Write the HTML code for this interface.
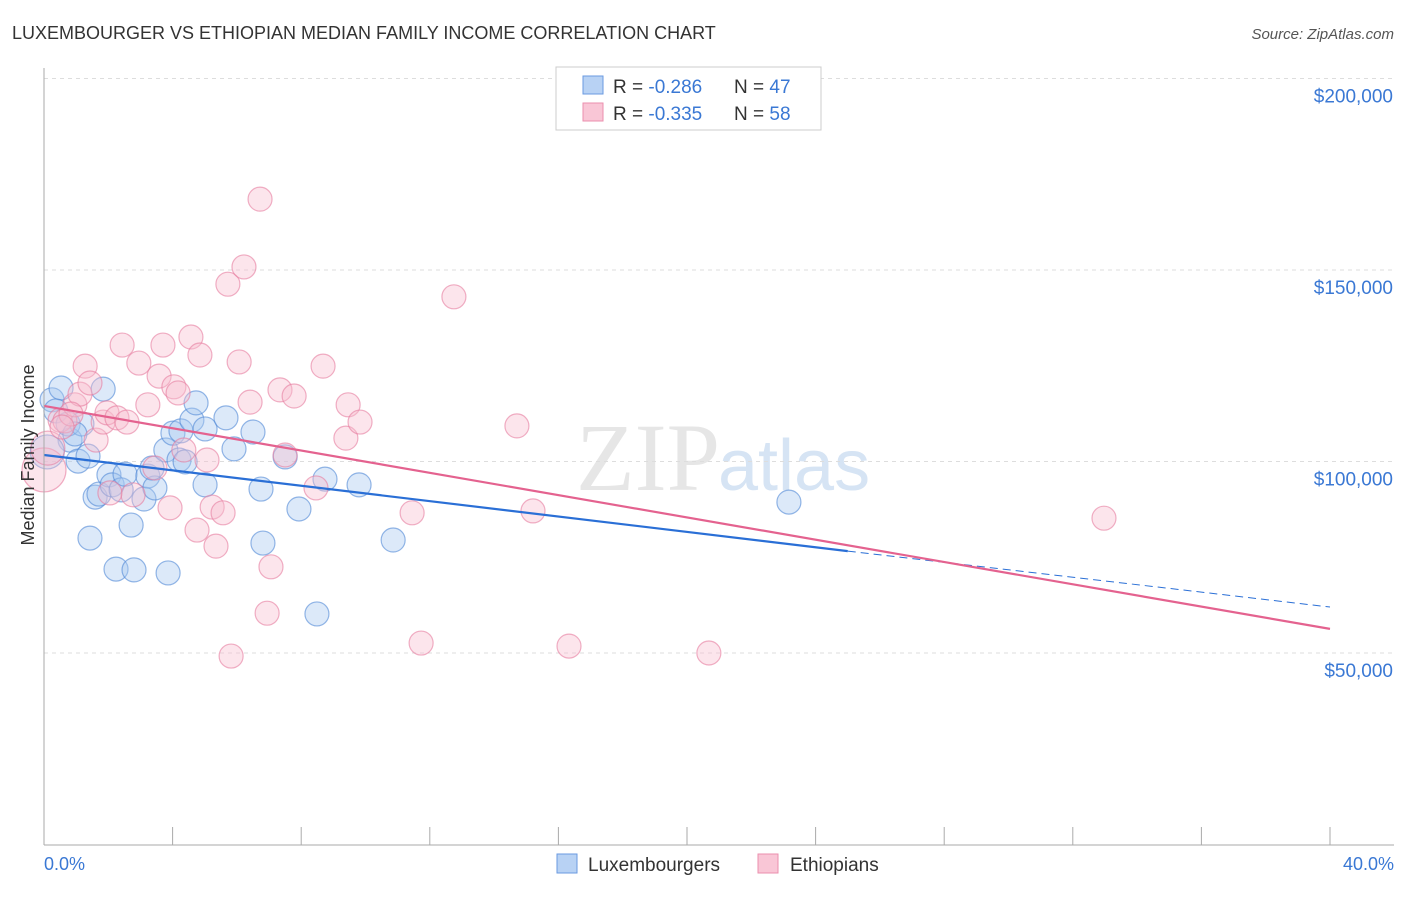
<!DOCTYPE html>
<html><head><meta charset="utf-8"><style>
body{margin:0;background:#fff;font-family:"Liberation Sans",sans-serif}
</style></head><body>
<svg width="1406" height="892" xmlns="http://www.w3.org/2000/svg" id="chart">
<text x="12" y="39" font-size="18" fill="#333">LUXEMBOURGER VS ETHIOPIAN MEDIAN FAMILY INCOME CORRELATION CHART</text>
<text x="1394" y="39" font-size="15" fill="#555" text-anchor="end" font-style="italic">Source: ZipAtlas.com</text>
<text x="720" y="490" font-size="96" fill="#e6e6e6" text-anchor="end" font-family="Liberation Serif">ZIP</text>
<text x="718" y="490" font-size="72" fill="#d6e4f4">atlas</text>
<g id="grid"></g><g id="pts"></g><g id="lines"></g>
<line x1="44" y1="68" x2="44" y2="845" stroke="#aaa"/>
<line x1="44" y1="845" x2="1394" y2="845" stroke="#aaa"/>
<text transform="translate(34,455) rotate(-90)" font-size="18" fill="#333" text-anchor="middle">Median Family Income</text>
<text x="44" y="870" font-size="18" fill="#3a78d4">0.0%</text>
<text x="1394" y="870" font-size="18" fill="#3a78d4" text-anchor="end">40.0%</text>
<g>
<rect x="556" y="67" width="265" height="63" fill="#fff" stroke="#ccc"/>
<rect x="583" y="76" width="20" height="18" fill="#b8d2f4" stroke="#6a9ae0"/>
<rect x="583" y="103" width="20" height="18" fill="#f9c6d6" stroke="#eb8fae"/>
<text x="613" y="93" font-size="19" fill="#333">R = <tspan fill="#3a78d4">-0.286</tspan></text>
<text x="734" y="93" font-size="19" fill="#333">N = <tspan fill="#3a78d4">47</tspan></text>
<text x="613" y="120" font-size="19" fill="#333">R = <tspan fill="#3a78d4">-0.335</tspan></text>
<text x="734" y="120" font-size="19" fill="#333">N = <tspan fill="#3a78d4">58</tspan></text>
</g>
<g>
<rect x="557" y="854" width="20" height="19" fill="#b8d2f4" stroke="#6a9ae0"/>
<text x="588" y="871" font-size="19" fill="#333">Luxembourgers</text>
<rect x="758" y="854" width="20" height="19" fill="#f9c6d6" stroke="#eb8fae"/>
<text x="790" y="871" font-size="19" fill="#333">Ethiopians</text>
</g>
</svg>
<script>
const yTicks=[50000,100000,150000,200000];
const yTickLabels=["$50,000","$100,000","$150,000","$200,000"];
const xTicks=[0,4,8,12,16,20,24,28,32,36,40];
const luxX=[0.25,0.53,0.37,0.81,0.75,1.18,0.96,1.84,1.06,1.37,1.59,1.71,2.02,2.12,2.40,2.52,2.71,1.43,2.24,2.80,3.86,3.11,3.23,3.45,3.36,3.79,4.01,4.26,4.20,4.39,4.60,4.73,5.01,5.01,5.66,5.91,6.50,6.75,6.81,7.50,7.93,8.49,8.74,9.80,10.86,23.17,0.1];
const luxY=[116.1,119.2,113.2,105.6,109.8,109.8,107.2,118.9,100.1,101.4,90.7,91.5,96.5,93.9,92.6,96.7,83.4,80.0,71.9,71.7,70.9,90.2,96.2,93.1,98.3,103.0,107.4,108.0,100.4,99.9,110.8,115.3,108.5,93.9,111.4,103.3,107.7,92.8,78.7,101.2,87.6,60.2,95.4,93.9,79.5,89.4,102.5];
const ethX=[0,0.12,0.50,0.65,0.96,1.12,1.28,1.43,1.62,1.84,1.96,2.27,2.43,2.58,2.95,2.77,3.23,3.45,3.58,3.70,3.92,4.04,4.17,4.35,4.57,4.76,4.85,5.07,5.23,5.35,5.57,5.72,6.07,6.22,6.41,6.72,6.94,7.06,7.34,7.50,7.78,8.46,8.68,9.46,9.39,9.83,11.45,11.73,12.75,14.71,15.21,16.33,20.68,32.97,5.82,0.84,2.05,0.56];
const ethY=[97.8,103.5,110.8,110.6,114.8,117.6,124.9,120.5,105.6,110.3,112.7,111.4,130.4,110.3,125.7,91.3,114.8,98.3,122.3,130.4,87.9,119.5,117.9,103.0,132.5,82.1,127.8,100.4,88.1,77.9,86.6,146.3,126.0,150.8,115.5,168.5,60.4,72.5,118.7,101.7,117.1,93.1,124.9,114.8,106.1,110.3,86.6,52.6,143.0,109.3,87.1,51.8,50.0,85.2,49.2,112.4,91.8,109.0];
const luxTrend=[101.7,76.6,62.0]; // at x=0, x=25 (solid end), x=40
const ethTrend=[114.5,56.3]; // at x=0, x=40
const X=v=>44+v*1286/40;
const Y=v=>653-(v-50000)*191.5/50000;
const NS="http://www.w3.org/2000/svg";
function mk(t,a,p){const e=document.createElementNS(NS,t);for(const k in a)e.setAttribute(k,a[k]);p.appendChild(e);return e;}
const grid=document.getElementById('grid');
yTicks.forEach((t,i)=>{
 const g=mk('line',{x1:44,x2:1394,y1:Y(t),y2:Y(t),stroke:'#ddd','stroke-dasharray':'4,4'},grid);
 
 
 const l=mk('text',{x:1393,y:Y(t)+24,'font-size':19,fill:'#3a78d4','text-anchor':'end'},grid);
 l.textContent=yTickLabels[i];
 
 
});
xTicks.forEach(t=>{
 const k=mk('line',{x1:X(t),x2:X(t),y1:827,y2:845,stroke:'#aaa'},grid);
 
 
});
const pts=document.getElementById('pts');
function dots(xs,ys,fill,stroke,name){
 xs.forEach((x,i)=>{
  const big=(x<0.3&&(name==='ethiopian-point'&&i<2||name==='luxembourger-point'&&i===46));
  const c=mk('circle',{cx:X(x),cy:Y(ys[i]*1000),r:big?(i===0?22:17):12,fill:fill,'fill-opacity':0.4,stroke:stroke,'stroke-opacity':0.6,'stroke-width':1.2},pts);
  
  
 });
}
dots(luxX,luxY,'#a8c8f0','#4f87d6','luxembourger-point');
dots(ethX,ethY,'#f7bfd0','#e67c9f','ethiopian-point');
const lines=document.getElementById('lines');
const l1=mk('line',{x1:X(0),y1:Y(luxTrend[0]*1000),x2:X(25),y2:Y(luxTrend[1]*1000),stroke:'#2a6fd6','stroke-width':2.2},lines);


const l2=mk('line',{x1:X(25),y1:Y(luxTrend[1]*1000),x2:X(40),y2:Y(luxTrend[2]*1000),stroke:'#2a6fd6','stroke-width':1,'stroke-dasharray':'8,5'},lines);


const l3=mk('line',{x1:X(0),y1:Y(ethTrend[0]*1000),x2:X(40),y2:Y(ethTrend[1]*1000),stroke:'#e4628f','stroke-width':2.2},lines);


</script>
</body></html>
